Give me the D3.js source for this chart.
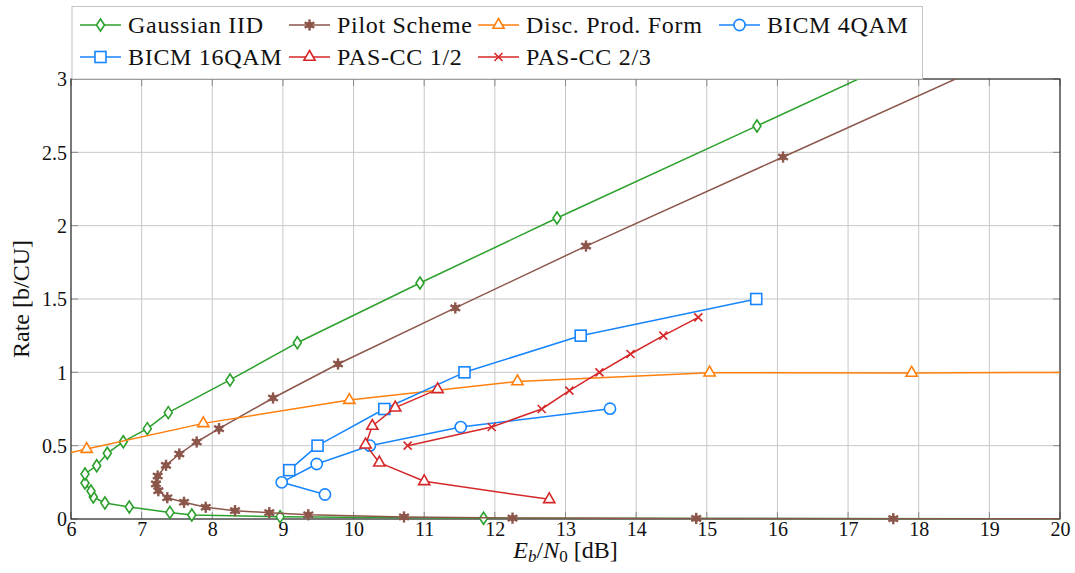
<!DOCTYPE html>
<html>
<head>
<meta charset="utf-8">
<script src="https://cdn.jsdelivr.net/npm/d3@7"></script>
<style>
  body { margin: 0; background: #fff; }
  svg { display: block; }
  text { font-family: "Liberation Serif", "Times New Roman", serif; fill: #111; }
</style>
</head>
<body>
<svg id="chart" width="1075" height="573"></svg>
<script>
// ---- data: Eb/N0 [dB] and rate [b/CU] per scheme ----
const gaussEbN0 = [21.0, 11.84, 8.96, 7.71, 7.40, 6.825, 6.48, 6.316, 6.283, 6.198, 6.198, 6.364, 6.514, 6.740, 7.080, 7.377, 8.251, 9.204, 10.94, 12.88, 15.71, 19.39];
const gaussRate = [0.001, 0.005, 0.016, 0.027, 0.045, 0.082, 0.109, 0.150, 0.191, 0.245, 0.307, 0.363, 0.448, 0.527, 0.616, 0.725, 0.948, 1.202, 1.609, 2.052, 2.680, 3.5];

const pilotEbN0 = [21.0, 17.64, 14.85, 12.25, 10.714, 9.359, 8.807, 8.322, 7.907, 7.600, 7.363, 7.236, 7.203, 7.227, 7.345, 7.533, 7.779, 8.095, 8.86, 9.78, 11.44, 13.29, 16.08, 19.21];
const pilotRate = [0.001, 0.002, 0.004, 0.006, 0.014, 0.029, 0.043, 0.057, 0.080, 0.114, 0.145, 0.193, 0.239, 0.293, 0.366, 0.443, 0.525, 0.616, 0.825, 1.057, 1.439, 1.861, 2.468, 3.15];

const discEbN0 = [5.6, 6.222, 7.873, 9.94, 12.32, 15.04, 17.90, 20.8];
const discRate = [0.41, 0.477, 0.652, 0.811, 0.938, 0.998, 0.996, 1.0];

const bicm4EbN0 = [9.595, 8.983, 9.478, 10.23, 11.517, 13.63];
const bicm4Rate = [0.167, 0.25, 0.375, 0.5, 0.627, 0.752];

const bicm16EbN0 = [9.09, 9.49, 10.435, 11.57, 13.215, 15.70];
const bicm16Rate = [0.333, 0.5, 0.75, 1.0, 1.25, 1.5];

const pas12EbN0 = [12.77, 11.0, 10.365, 10.17, 10.265, 10.59, 11.19];
const pas12Rate = [0.134, 0.257, 0.384, 0.507, 0.634, 0.759, 0.884];

const pas23EbN0 = [10.766, 11.955, 12.663, 13.055, 13.48, 13.92, 14.385, 14.88];
const pas23Rate = [0.5, 0.627, 0.75, 0.875, 1.0, 1.125, 1.25, 1.375];

const xTicks = [6, 7, 8, 9, 10, 11, 12, 13, 14, 15, 16, 17, 18, 19, 20];
const yTicks = [0, 0.5, 1, 1.5, 2, 2.5, 3];
const yTickLabels = ["0", "0.5", "1", "1.5", "2", "2.5", "3"];

const seriesNames = ["Gaussian IID", "Pilot Scheme", "Disc. Prod. Form", "BICM 4QAM", "BICM 16QAM", "PAS-CC 1/2", "PAS-CC 2/3"];

// ---- styling ----
const series = [
  { name: seriesNames[0], xs: gaussEbN0, ys: gaussRate, color: "#2ca02c", mark: "diamond" },
  { name: seriesNames[1], xs: pilotEbN0, ys: pilotRate, color: "#8c564b", mark: "asterisk" },
  { name: seriesNames[2], xs: discEbN0, ys: discRate, color: "#ff7f0e", mark: "triangle" },
  { name: seriesNames[3], xs: bicm4EbN0, ys: bicm4Rate, color: "#1685ff", mark: "circle" },
  { name: seriesNames[4], xs: bicm16EbN0, ys: bicm16Rate, color: "#1685ff", mark: "square" },
  { name: seriesNames[5], xs: pas12EbN0, ys: pas12Rate, color: "#d62728", mark: "triangle" },
  { name: seriesNames[6], xs: pas23EbN0, ys: pas23Rate, color: "#d62728", mark: "cross" }
];

const plot = { left: 71, right: 1060, top: 79, bottom: 519 };
const svg = d3.select("#chart");

const x = d3.scaleLinear().domain([6, 20]).range([plot.left, plot.right]);
const y = d3.scaleLinear().domain([0, 3]).range([plot.bottom, plot.top]);

// grid
const grid = svg.append("g").attr("stroke", "#c8c8c8").attr("stroke-width", 1);
grid.selectAll("line.gx").data(xTicks).join("line")
  .attr("x1", d => x(d)).attr("x2", d => x(d))
  .attr("y1", plot.top).attr("y2", plot.bottom);
grid.selectAll("line.gy").data(yTicks).join("line")
  .attr("x1", plot.left).attr("x2", plot.right)
  .attr("y1", d => y(d)).attr("y2", d => y(d));

// inward tick marks on all four sides
const tickLen = 7;
const ticks = svg.append("g").attr("stroke", "#8a8a8a").attr("stroke-width", 1);
xTicks.forEach(t => {
  ticks.append("line").attr("x1", x(t)).attr("x2", x(t)).attr("y1", plot.bottom).attr("y2", plot.bottom - tickLen);
  ticks.append("line").attr("x1", x(t)).attr("x2", x(t)).attr("y1", plot.top).attr("y2", plot.top + tickLen);
});
yTicks.forEach(t => {
  ticks.append("line").attr("x1", plot.left).attr("x2", plot.left + tickLen).attr("y1", y(t)).attr("y2", y(t));
  ticks.append("line").attr("x1", plot.right).attr("x2", plot.right - tickLen).attr("y1", y(t)).attr("y2", y(t));
});

// frame
svg.append("rect")
  .attr("x", plot.left).attr("y", plot.top)
  .attr("width", plot.right - plot.left).attr("height", plot.bottom - plot.top)
  .attr("fill", "none").attr("stroke", "#222").attr("stroke-width", 1.1);

// tick labels
const xAxis = d3.axisBottom(x).tickValues(xTicks).tickSize(0).tickPadding(0).tickFormat(d3.format("d"));
const gx = svg.append("g").attr("transform", `translate(0,${plot.bottom})`).call(xAxis);
gx.select(".domain").remove();
gx.selectAll("text").attr("y", 17).attr("dy", 0).style("font-size", "20px")
  .style("font-family", "'Liberation Serif', serif").attr("fill", "#111");

const yAxis = d3.axisLeft(y).tickValues(yTicks).tickSize(0).tickPadding(0)
  .tickFormat((d, i) => yTickLabels[i]);
const gy = svg.append("g").attr("transform", `translate(${plot.left - 4},0)`).call(yAxis);
gy.select(".domain").remove();
gy.selectAll("text").attr("dy", "0.34em").style("font-size", "20px")
  .style("font-family", "'Liberation Serif', serif").attr("fill", "#111");

// axis titles
svg.append("text")
  .attr("transform", `translate(29,${(plot.top + plot.bottom) / 2}) rotate(-90)`)
  .attr("text-anchor", "middle").style("font-size", "24px")
  .text("Rate [b/CU]");

const xl = svg.append("text").attr("x", (plot.left + plot.right) / 2).attr("y", 558)
  .attr("text-anchor", "middle").style("font-size", "24px");
xl.append("tspan").style("font-style", "italic").text("E");
xl.append("tspan").style("font-style", "italic").style("font-size", "17px").attr("dy", 4).text("b");
xl.append("tspan").attr("dy", -4).text("/");
xl.append("tspan").style("font-style", "italic").text("N");
xl.append("tspan").style("font-size", "17px").attr("dy", 4).text("0");
xl.append("tspan").attr("dy", -4).text(" [dB]");

// marker shapes
function drawMarker(g, type, color) {
  const sw = 1.6;
  switch (type) {
    case "diamond":
      g.append("path").attr("d", "M0,-6L4,0L0,6L-4,0Z")
        .attr("fill", "#fff").attr("stroke", color).attr("stroke-width", sw);
      break;
    case "asterisk":
      g.append("circle").attr("r", 3.2).attr("fill", color);
      [0, 60, 120].forEach(a => {
        const r = 5.6, t = a * Math.PI / 180;
        g.append("line")
          .attr("x1", -r * Math.sin(t)).attr("y1", -r * Math.cos(t))
          .attr("x2", r * Math.sin(t)).attr("y2", r * Math.cos(t))
          .attr("stroke", color).attr("stroke-width", 2.4);
      });
      break;
    case "triangle":
      g.append("path").attr("d", "M0,-6.5L5.6,3.3L-5.6,3.3Z")
        .attr("fill", "#fff").attr("stroke", color).attr("stroke-width", sw);
      break;
    case "circle":
      g.append("circle").attr("r", 5.6)
        .attr("fill", "#fff").attr("stroke", color).attr("stroke-width", sw);
      break;
    case "square":
      g.append("rect").attr("x", -5.5).attr("y", -5.5).attr("width", 11).attr("height", 11)
        .attr("fill", "#fff").attr("stroke", color).attr("stroke-width", sw);
      break;
    case "cross":
      g.append("path").attr("d", "M-4,-4L4,4M-4,4L4,-4")
        .attr("fill", "none").attr("stroke", color).attr("stroke-width", sw);
      break;
  }
}

// curves (clipped to the plot area), markers only for in-range points
svg.append("defs").append("clipPath").attr("id", "plotClip")
  .append("rect").attr("x", plot.left).attr("y", plot.top)
  .attr("width", plot.right - plot.left).attr("height", plot.bottom - plot.top + 0.5);

const line = d3.line().x(d => x(d[0])).y(d => y(d[1]));
const inRange = d => d[0] >= 6 && d[0] <= 20 && d[1] >= 0 && d[1] <= 3;

series.forEach(s => {
  const pts = s.xs.map((v, i) => [v, s.ys[i]]);
  svg.append("path").datum(pts)
    .attr("clip-path", "url(#plotClip)")
    .attr("d", line)
    .attr("fill", "none").attr("stroke", s.color).attr("stroke-width", 1.5)
    .attr("stroke-linejoin", "round");
  const mg = svg.append("g");
  pts.filter(inRange).forEach(p => {
    const g = mg.append("g").attr("transform", `translate(${x(p[0])},${y(p[1])})`);
    drawMarker(g, s.mark, s.color);
  });
});

// legend
const legend = svg.append("g");
legend.append("rect").attr("x", 72).attr("y", 6.5).attr("width", 850.5).attr("height", 72.5)
  .attr("fill", "#fff").attr("stroke", "#c4c4c4").attr("stroke-width", 1);
const legendCols = [80, 289, 478, 719];
const legendRows = [25, 57];
series.forEach((s, i) => {
  const cx = legendCols[i % 4], cy = legendRows[Math.floor(i / 4)];
  legend.append("line").attr("x1", cx).attr("x2", cx + 41).attr("y1", cy).attr("y2", cy)
    .attr("stroke", s.color).attr("stroke-width", 1.5);
  const g = legend.append("g").attr("transform", `translate(${cx + 20.5},${cy})`);
  drawMarker(g, s.mark, s.color);
  legend.append("text").attr("x", cx + 48).attr("y", cy + 8)
    .style("font-size", "24px").style("letter-spacing", "0.7px").text(s.name);
});
</script>
</body>
</html>
